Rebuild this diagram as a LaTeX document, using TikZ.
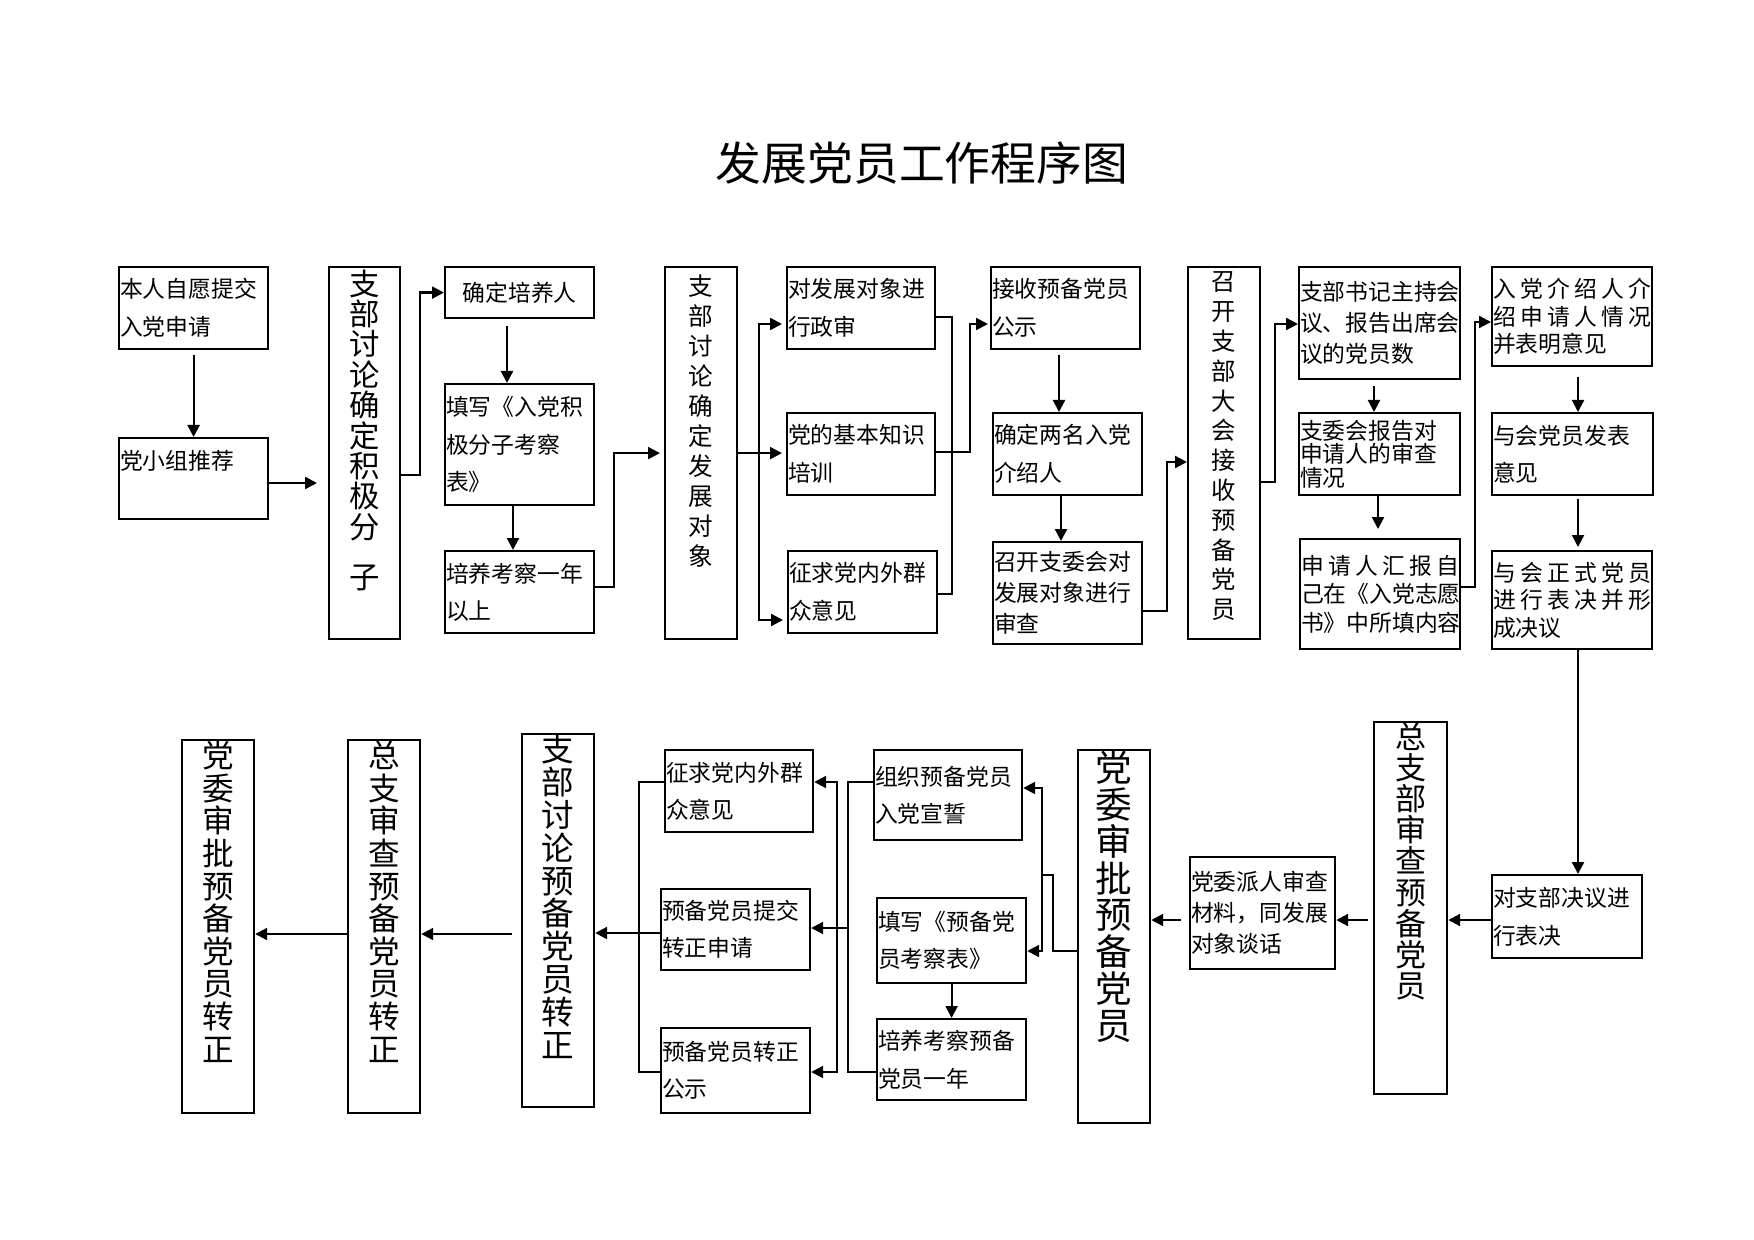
\documentclass[tikz,border=0pt]{standalone}
\usepackage{fontspec}
\setmainfont{Noto Sans CJK SC}
\usetikzlibrary{arrows.meta}
\newcommand{\spreadline}[1]{{\spaceskip=0pt plus 1fil\xspaceskip=0pt plus 1fil\makebox[\hsize][s]{#1}}}

\begin{document}
\begin{tikzpicture}[x=0.5pt, y=-0.5pt, line width=1.1pt, >={Triangle[length=6pt,width=6pt]},
	stepbox/.style={draw, anchor=north west, inner xsep=0.5pt, inner ysep=0pt, align=left},
	tallbox/.style={draw, anchor=north west, inner sep=0pt},
	tallword/.style={anchor=north, inner sep=0pt, align=center}]
		\def\boxfont#1{\fontsize{11.4}{#1}\selectfont}
		\def\stackfont#1#2{\fontsize{#1}{#2}\selectfont\lineskiplimit=-20pt}
		
		\path[fill=white] (0,0) rectangle (1754,1240);
		\node[font=\fontsize{22.9}{24}\selectfont] (title) at (922,163) {发展党员工作程序图};
		
		% top row
		\node[stepbox, minimum width=74.5pt, minimum height=41pt, text width=73.5pt, font=\boxfont{19}] (apply) at (118,266) {本人自愿提交\\入党申请};
		\node[stepbox, minimum width=74.5pt, minimum height=40.5pt, text width=73.5pt, font=\boxfont{19}] (recommend) at (118,437) {党小组推荐\\\mbox{}};
		\node[tallbox, minimum width=35.5pt, minimum height=186pt, label={[tallword, font=\stackfont{15.2}{15.2}, yshift=-1.2pt]north:{支\\部\\讨\\论\\确\\定\\积\\极\\分\\[10pt]子}}] (activist) at (328,266) {};
		\node[stepbox, minimum width=74.5pt, minimum height=25.5pt, text width=73.5pt, align=center, font=\boxfont{19}] (trainer) at (444,266) {确定培养人};
		\node[stepbox, minimum width=74.5pt, minimum height=60.5pt, text width=73.5pt, font=\boxfont{18.75}] (activistform) at (444,383) {填写《入党积\\极分子考察\\表》};
		\node[stepbox, minimum width=74.5pt, minimum height=41pt, text width=73.5pt, font=\boxfont{18.3}] (trainyear) at (444,550) {培养考察一年\\以上};
		\node[tallbox, minimum width=36pt, minimum height=186pt, label={[tallword, font=\stackfont{12.3}{15}, yshift=-3.9pt]north:{支\\部\\讨\\论\\确\\定\\发\\展\\对\\象}}] (candidate) at (664,266) {};
		\node[stepbox, minimum width=74pt, minimum height=41pt, text width=73pt, font=\boxfont{19}] (politics) at (786,266) {对发展对象进\\行政审};
		\node[stepbox, minimum width=74pt, minimum height=41pt, text width=73pt, font=\boxfont{19}] (knowledge) at (786,412) {党的基本知识\\培训};
		\node[stepbox, minimum width=74.5pt, minimum height=41pt, text width=73.5pt, font=\boxfont{19}] (opinion1) at (787,550) {征求党内外群\\众意见};
		\node[stepbox, minimum width=74.5pt, minimum height=41pt, text width=73.5pt, font=\boxfont{19}] (publicity1) at (990,266) {接收预备党员\\公示};
		\node[stepbox, minimum width=74.5pt, minimum height=41pt, text width=73.5pt, font=\boxfont{19}] (sponsors) at (992,412) {确定两名入党\\介绍人};
		\node[stepbox, minimum width=74.5pt, minimum height=51pt, text width=73.5pt, font=\boxfont{15.5}] (committee1) at (992,541) {召开支委会对\\发展对象进行\\审查};
		\node[tallbox, minimum width=36pt, minimum height=186pt, label={[tallword, font=\stackfont{12.2}{14.9}, yshift=-2.4pt]north:{召\\开\\支\\部\\大\\会\\接\\收\\预\\备\\党\\员}}] (assembly) at (1187,266) {};
		\node[stepbox, minimum width=80.5pt, minimum height=56pt, text width=79.5pt, font=\boxfont{15.5}] (secretary) at (1298,266) {支部书记主持会\\议、报告出席会\\议的党员数};
		\node[stepbox, minimum width=80.5pt, minimum height=41pt, text width=79.5pt, font=\boxfont{11.75}] (report) at (1298,412) {支委会报告对\\申请人的审查\\情况};
		\node[stepbox, minimum width=80pt, minimum height=55pt, text width=79pt, font=\boxfont{14.25}] (selfreport) at (1299,538) {\spreadline{申 请 人 汇 报 自}\\己在《入党志愿\\书》中所填内容};
		\node[stepbox, minimum width=80pt, minimum height=49.5pt, text width=79pt, font=\boxfont{13.75}] (sponsorintro) at (1491,266) {\spreadline{入 党 介 绍 人 介}\\\spreadline{绍 申 请 人 情 况}\\并表明意见};
		\node[stepbox, minimum width=80.5pt, minimum height=41pt, text width=79.5pt, font=\boxfont{18.3}] (members) at (1491,412) {与会党员发表\\意见};
		\node[stepbox, minimum width=80pt, minimum height=49pt, text width=79pt, font=\boxfont{13.75}] (vote) at (1491,550) {\spreadline{与 会 正 式 党 员}\\\spreadline{进 行 表 决 并 形}\\成决议};
		
		% bottom row
		\node[stepbox, minimum width=75pt, minimum height=41.5pt, text width=74pt, font=\boxfont{19.25}] (branchvote) at (1491,874) {对支部决议进\\行表决};
		\node[tallbox, minimum width=36.5pt, minimum height=186pt, label={[tallword, font=\stackfont{15.5}{15.6}]north:{总\\支\\部\\审\\查\\预\\备\\党\\员}}] (general1) at (1373,721) {};
		\node[stepbox, minimum width=72.5pt, minimum height=56pt, text width=71.5pt, font=\boxfont{15.5}] (talk) at (1189,856) {党委派人审查\\材料，同发展\\对象谈话};
		\node[tallbox, minimum width=36pt, minimum height=186.5pt, label={[tallword, font=\stackfont{18.3}{18.4}, yshift=-0.4pt]north:{党\\委\\审\\批\\预\\备\\党\\员}}] (partyapprove) at (1077,749) {};
		\node[stepbox, minimum width=74pt, minimum height=45pt, text width=73pt, font=\boxfont{18.5}] (oath) at (873,749) {组织预备党员\\入党宣誓};
		\node[stepbox, minimum width=74.5pt, minimum height=42.5pt, text width=73.5pt, font=\boxfont{18.3}] (probform) at (876,897) {填写《预备党\\员考察表》};
		\node[stepbox, minimum width=74.5pt, minimum height=40.5pt, text width=73.5pt, font=\boxfont{19.1}] (probyear) at (876,1018) {培养考察预备\\党员一年};
		\node[stepbox, minimum width=74pt, minimum height=41pt, text width=73pt, font=\boxfont{18.5}] (opinion2) at (664,749) {征求党内外群\\众意见};
		\node[stepbox, minimum width=74.5pt, minimum height=40.5pt, text width=73.5pt, font=\boxfont{18.5}] (submit) at (660,888) {预备党员提交\\转正申请};
		\node[stepbox, minimum width=74.5pt, minimum height=42.5pt, text width=73.5pt, font=\boxfont{18.5}] (publicity2) at (660,1027) {预备党员转正\\公示};
		\node[tallbox, minimum width=36pt, minimum height=186.5pt, label={[tallword, font=\stackfont{16.3}{16.4}, yshift=-0.2pt]north:{支\\部\\讨\\论\\预\\备\\党\\员\\转\\正}}] (branchdiscuss) at (521,733) {};
		\node[tallbox, minimum width=36pt, minimum height=186.5pt, label={[tallword, font=\stackfont{15.8}{16.3}, yshift=-0.5pt]north:{总\\支\\审\\查\\预\\备\\党\\员\\转\\正}}] (general2) at (347,739) {};
		\node[tallbox, minimum width=36pt, minimum height=186.5pt, label={[tallword, font=\stackfont{15.8}{16.3}, yshift=-0.5pt]north:{党\\委\\审\\批\\预\\备\\党\\员\\转\\正}}] (finalapprove) at (181,739) {};
		
		% connectors, top row
		\draw[->, shorten <=2.5pt] (apply.south) -- (recommend.north);
		\draw[->, shorten >=5.5pt] (recommend.east |- 0,483) -- (activist.west |- 0,483);
		\draw[->] (activist.east |- 0,475) -- ++(19,0) |- (trainer.west);
		\draw[->, shorten <=3.5pt] (trainer.south -| 507,0) -- (activistform.north -| 507,0);
		\draw[->] (activistform.south -| 513,0) -- (trainyear.north -| 513,0);
		\draw[->, shorten >=2pt] (trainyear.east |- 0,587) -- ++(19,0) |- (candidate.west);
		\draw[->, shorten >=2pt] (candidate.east) -- ++(21,0) |- (politics.west |- 0,324);
		\draw[->, shorten >=2pt] (candidate.east) -- (knowledge.west |- candidate.east);
		\draw[->, shorten >=2pt] (candidate.east) -- ++(21,0) |- (opinion1.west |- 0,620);
		\draw (politics.east |- 0,317) -- ++(16,0) |- (opinion1.east |- 0,594);
		\draw[->, shorten >=1pt] (knowledge.east |- 0,452) -- ++(34,0) |- (publicity1.west |- 0,324);
		\draw[->, shorten <=2.5pt] (publicity1.south -| 1059,0) -- (sponsors.north -| 1059,0);
		\draw[->] (sponsors.south -| 1061,0) -- (committee1.north -| 1061,0);
		\draw[->] (committee1.east |- 0,611) -- ++(24,0) |- (assembly.west |- 0,462);
		\draw[->] (assembly.east |- 0,482) -- ++(14,0) |- (secretary.west |- 0,324);
		\draw[->, shorten <=3pt] (secretary.south -| 1374,0) -- (report.north -| 1374,0);
		\draw[->, shorten >=4.5pt] (report.south -| 1378,0) -- (selfreport.north -| 1378,0);
		\draw[->] (selfreport.east |- 0,587) -- ++(14,0) |- (sponsorintro.west |- 0,322);
		\draw[->, shorten <=5pt] (sponsorintro.south -| 1578,0) -- (members.north -| 1578,0);
		\draw[->, shorten <=1.5pt, shorten >=1.5pt] (members.south -| 1578,0) -- (vote.north -| 1578,0);
		\draw[->] (vote.south -| 1578,0) -- (branchvote.north -| 1578,0);
		
		% connectors, bottom row
		\draw[->] (branchvote.west |- 0,920) -- (general1.east |- 0,920);
		\draw[->, shorten <=2.5pt] (general1.west |- 0,920) -- (talk.east |- 0,920);
		\draw[->, shorten <=4pt] (talk.west |- 0,920) -- (partyapprove.east |- 0,920);
		\coordinate (upjoin) at (1042,875);
		\draw (partyapprove.west |- 0,951) -- ++(-24,0) |- (upjoin);
		\draw[->] (upjoin) |- (oath.east |- 0,788);
		\draw[->] (upjoin) |- (probform.east |- 0,951);
		\draw[->] (probform.south) -- (probyear.north);
		\coordinate (midjoin) at (848,928);
		\draw (oath.west |- 0,782) -| (midjoin);
		\draw (probyear.west |- 0,1072) -| (midjoin);
		\draw[->] (midjoin) -- (submit.east |- midjoin);
		\coordinate (splitjoin) at (837,928);
		\draw[->] (splitjoin) |- (opinion2.east |- 0,782);
		\draw[->] (splitjoin) |- (publicity2.east |- 0,1072);
		\draw (opinion2.west |- 0,782) -- ++(-25,0) |- (publicity2.west |- 0,1072);
		\draw[->] (submit.west |- 0,933) -- (branchdiscuss.east |- 0,933);
		\draw[->, shorten <=4.5pt] (branchdiscuss.west |- 0,934) -- (general2.east |- 0,934);
		\draw[->] (general2.west |- 0,934) -- (finalapprove.east |- 0,934);
	\end{tikzpicture}
\end{document}
